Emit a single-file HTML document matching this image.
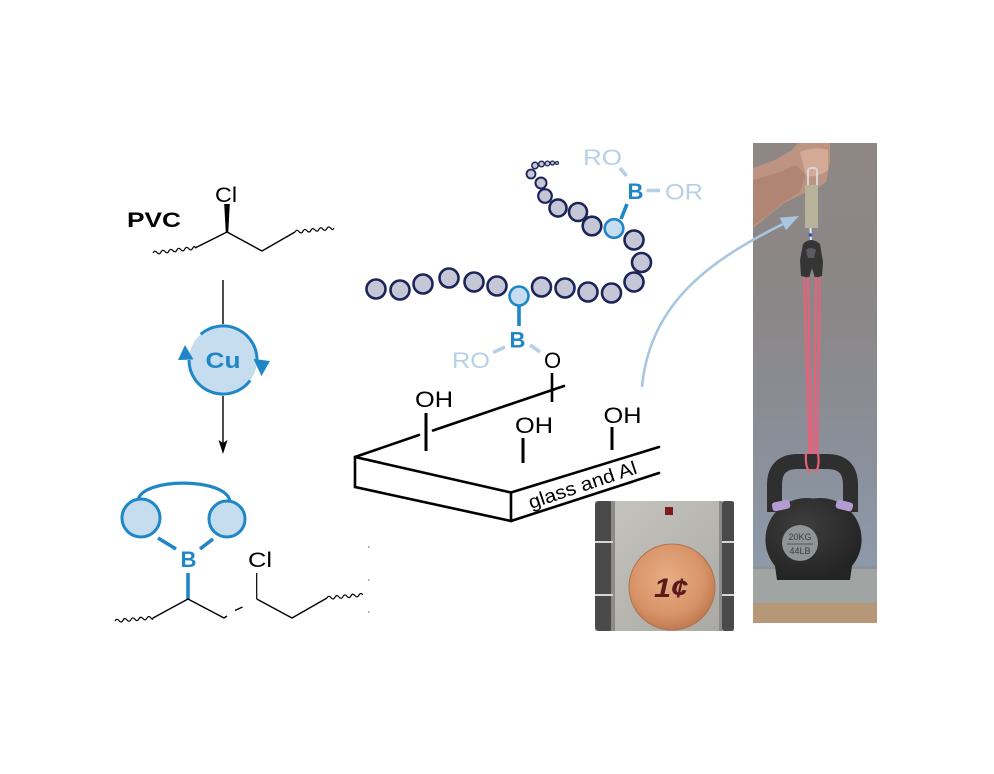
<!DOCTYPE html>
<html><head><meta charset="utf-8">
<style>
html,body{margin:0;padding:0;background:#fff;}
svg{display:block;}
text{font-family:"Liberation Sans",Arial,sans-serif;}
</style></head><body>
<svg width="994" height="774" viewBox="0 0 994 774" xmlns="http://www.w3.org/2000/svg">
<defs>
  <radialGradient id="penny" cx="45%" cy="40%" r="60%">
    <stop offset="0" stop-color="#e8ad84"/>
    <stop offset="0.7" stop-color="#d89468"/>
    <stop offset="1" stop-color="#c07a52"/>
  </radialGradient>
  <linearGradient id="metal" x1="0" y1="0" x2="1" y2="1">
    <stop offset="0" stop-color="#c6c5bf"/>
    <stop offset="1" stop-color="#a9a8a3"/>
  </linearGradient>
  <linearGradient id="wall" x1="0" y1="0" x2="0" y2="1">
    <stop offset="0" stop-color="#8e8784"/>
    <stop offset="0.35" stop-color="#8b8788"/>
    <stop offset="0.6" stop-color="#8a8e97"/>
    <stop offset="0.88" stop-color="#8d99a9"/>
    <stop offset="1" stop-color="#8f9bab"/>
  </linearGradient>
  <radialGradient id="kb" cx="40%" cy="35%" r="65%">
    <stop offset="0" stop-color="#3e3e3e"/>
    <stop offset="1" stop-color="#242424"/>
  </radialGradient>
</defs>

<!-- ============ LEFT COLUMN ============ -->
<text x="127" y="227" font-size="21" font-weight="bold" textLength="54" lengthAdjust="spacingAndGlyphs">PVC</text>
<text x="215" y="202" font-size="21" textLength="22" lengthAdjust="spacingAndGlyphs">Cl</text>
<polygon points="225.8,233 228.2,233 229.8,204 224.2,204" fill="#000"/>
<g fill="none" stroke="#000" stroke-width="1.4" stroke-linejoin="round">
  <path d="M195 248 L227 232 L262 251 L295 232"/>
  <g transform="translate(153,253) rotate(-7)"><path d="M0 0 q2 -3 4 0 t4 0 t4 0 t4 0 t4 0 t4 0 t4 0 t4 0 t4 0 t4 0 t2.5 0" stroke-width="1.2"/></g>
  <g transform="translate(295,232) rotate(-6)"><path d="M0 0 q2 -3 4 0 t4 0 t4 0 t4 0 t4 0 t4 0 t4 0 t4 0 t4 0 t3 0" stroke-width="1.2"/></g>
  <line x1="223" y1="280" x2="223" y2="324"/>
  <line x1="223" y1="396" x2="223" y2="445"/>
</g>
<polygon points="218.5,440 223,443 227.5,440 223,454" fill="#000"/>

<!-- Cu cycle -->
<circle cx="223" cy="360" r="34" fill="#c6dcef"/>
<g fill="none" stroke="#1f86c7" stroke-width="3">
  <path d="M200.7 334.3 A34 34 0 0 1 256.9 363"/>
  <path d="M250.2 380.5 A34 34 0 0 1 189 360"/>
</g>
<polygon points="253.5,359 270,361 261.5,376" fill="#1f86c7"/>
<polygon points="178,360 193.5,359.5 185,345" fill="#1f86c7"/>
<text x="223" y="368" font-size="22" font-weight="bold" fill="#1f86c7" text-anchor="middle" textLength="35" lengthAdjust="spacingAndGlyphs">Cu</text>

<!-- Boronate product -->
<path d="M138 501 C140 477 228 477 230 502" fill="none" stroke="#1f86c7" stroke-width="3.2"/>
<circle cx="141" cy="518" r="19" fill="#c6dcef" stroke="#1f86c7" stroke-width="3"/>
<circle cx="227" cy="519" r="18" fill="#c6dcef" stroke="#1f86c7" stroke-width="3"/>
<g stroke="#1f86c7" stroke-width="3.6" fill="none">
  <line x1="158" y1="538" x2="176" y2="549"/>
  <line x1="213" y1="539" x2="200" y2="549"/>
  <line x1="188" y1="573" x2="188" y2="600"/>
</g>
<text x="188.5" y="567" font-size="22" font-weight="bold" fill="#1f86c7" text-anchor="middle">B</text>
<text x="248" y="567" font-size="21" textLength="24" lengthAdjust="spacingAndGlyphs">Cl</text>
<g fill="none" stroke="#000" stroke-width="1.4" stroke-linejoin="round">
  <path d="M153 618 L188 599 L224 618 L227 616"/>
  <line x1="235" y1="610.5" x2="242.5" y2="607"/>
  <line x1="256.7" y1="573" x2="256.7" y2="599" stroke-width="1.2"/>
  <path d="M256.7 599 L292 618 L327 598"/>
  <g transform="translate(115,621) rotate(-5)"><path d="M0 0 q2 -3 4 0 t4 0 t4 0 t4 0 t4 0 t4 0 t4 0 t4 0 t4 0 t2 0" stroke-width="1.2"/></g>
  <g transform="translate(327,598) rotate(-5)"><path d="M0 0 q2 -3 4 0 t4 0 t4 0 t4 0 t4 0 t4 0 t4 0 t4 0 t4 0" stroke-width="1.2"/></g>
</g>
<g fill="#7fc79a">
  <rect x="368" y="546" width="1.5" height="2"/>
  <rect x="368" y="579" width="1.5" height="2"/>
  <rect x="368" y="611" width="1.5" height="2"/>
</g>

<!-- ============ MIDDLE: polymer chain ============ -->
<g fill="#c5c6d6" stroke="#1c2559" stroke-width="2.6">
  <circle cx="557" cy="163" r="1.5" stroke-width="1.1"/>
  <circle cx="552.5" cy="163" r="2" stroke-width="1.2"/>
  <circle cx="547.5" cy="163.5" r="2.4" stroke-width="1.3"/>
  <circle cx="541.5" cy="164" r="2.8" stroke-width="1.4"/>
  <circle cx="535" cy="165.5" r="3.2" stroke-width="1.5"/>
  <circle cx="531" cy="174" r="4.5" stroke-width="1.8"/>
  <circle cx="541" cy="183" r="5.5" stroke-width="2"/>
  <circle cx="545" cy="196" r="6.8" stroke-width="2.2"/>
  <circle cx="558" cy="208" r="8.5"/>
  <circle cx="578" cy="212" r="9"/>
  <circle cx="592" cy="226" r="9.3"/>
  <circle cx="634" cy="240" r="9.5"/>
  <circle cx="641.5" cy="262.5" r="9.5"/>
  <circle cx="634" cy="282" r="9.5"/>
  <circle cx="611.5" cy="293" r="9.5"/>
  <circle cx="588" cy="292" r="9.5"/>
  <circle cx="565" cy="288" r="9.5"/>
  <circle cx="541.5" cy="287" r="9.5"/>
  <circle cx="376" cy="289" r="9.5"/>
  <circle cx="400" cy="290" r="9.5"/>
  <circle cx="423" cy="284" r="9.5"/>
  <circle cx="449" cy="278" r="9.5"/>
  <circle cx="474" cy="282" r="9.5"/>
  <circle cx="497" cy="286" r="9.5"/>
</g>
<g fill="#c6dcef" stroke="#1f86c7" stroke-width="2.6">
  <circle cx="614" cy="228.5" r="9.3"/>
  <circle cx="519" cy="296" r="9.5"/>
</g>

<!-- upper boronate -->
<g stroke-width="3.6" fill="none">
  <line x1="621" y1="219" x2="627" y2="204" stroke="#1f86c7"/>
  <line x1="646.5" y1="190.5" x2="660" y2="190.5" stroke="#b7d0e6"/>
  <line x1="620" y1="168" x2="626.5" y2="176" stroke="#b7d0e6"/>
</g>
<text x="635.5" y="199" font-size="22" font-weight="bold" fill="#1f86c7" text-anchor="middle">B</text>
<text x="665" y="199.5" font-size="22" fill="#b7d0e6" textLength="38" lengthAdjust="spacingAndGlyphs">OR</text>
<text x="583" y="165" font-size="22" fill="#b7d0e6" textLength="39" lengthAdjust="spacingAndGlyphs">RO</text>

<!-- lower boronate -->
<g stroke-width="3.6" fill="none">
  <line x1="519" y1="306" x2="519" y2="326" stroke="#1f86c7"/>
  <line x1="493" y1="352.5" x2="505" y2="347" stroke="#b7d0e6"/>
  <line x1="530" y1="345" x2="540" y2="352" stroke="#b7d0e6"/>
</g>
<text x="517.5" y="347.5" font-size="22" font-weight="bold" fill="#1f86c7" text-anchor="middle">B</text>
<text x="452" y="368" font-size="22" fill="#b7d0e6" textLength="38" lengthAdjust="spacingAndGlyphs">RO</text>
<text x="552.5" y="368" font-size="22" fill="#000" text-anchor="middle">O</text>

<!-- ============ Slab ============ -->
<g stroke="#000" stroke-width="2.6" fill="none" stroke-linecap="round" stroke-linejoin="round">
  <line x1="355" y1="457" x2="419" y2="435"/>
  <line x1="433" y1="430.5" x2="564" y2="386"/>
  <line x1="355" y1="457" x2="355" y2="487"/>
  <line x1="355" y1="457" x2="511" y2="492.5"/>
  <line x1="355" y1="487" x2="511" y2="521"/>
  <line x1="511" y1="492.5" x2="511" y2="521"/>
  <line x1="511" y1="492.5" x2="659" y2="447"/>
  <line x1="511" y1="521" x2="659" y2="473"/>
  <line x1="552" y1="373" x2="552" y2="402" stroke-linecap="butt"/>
  <line x1="426" y1="413" x2="426" y2="451" stroke-width="3" stroke-linecap="butt"/>
  <line x1="523" y1="438" x2="523" y2="463" stroke-width="3" stroke-linecap="butt"/>
  <line x1="612" y1="427" x2="612" y2="450" stroke-width="3" stroke-linecap="butt"/>
</g>
<text x="415" y="407" font-size="22" textLength="38" lengthAdjust="spacingAndGlyphs">OH</text>
<text x="515" y="433" font-size="22" textLength="38" lengthAdjust="spacingAndGlyphs">OH</text>
<text x="603.5" y="423" font-size="22" textLength="38" lengthAdjust="spacingAndGlyphs">OH</text>
<text transform="translate(531,509) rotate(-18.5)" font-size="19" textLength="113" lengthAdjust="spacingAndGlyphs">glass and Al</text>

<!-- ============ Penny photo ============ -->
<g>
  <rect x="595" y="501" width="139" height="130" fill="url(#metal)"/>
  <rect x="595" y="501" width="18" height="130" rx="4" fill="#4a4a4a"/>
  <rect x="611" y="501" width="4" height="130" fill="#8c8b87"/>
  <rect x="722" y="501" width="12" height="130" rx="3" fill="#4a4a4a"/>
  <rect x="719" y="501" width="3" height="130" fill="#8c8b87"/>
  <rect x="595" y="541" width="18" height="2" fill="#d5d5d5"/>
  <rect x="595" y="594" width="18" height="2" fill="#d5d5d5"/>
  <rect x="722" y="541" width="12" height="2" fill="#d5d5d5"/>
  <rect x="722" y="594" width="12" height="2" fill="#d5d5d5"/>
  <rect x="665" y="507" width="8" height="8" fill="#7d1d19"/>
  <circle cx="672" cy="587" r="43" fill="url(#penny)" stroke="#b47049" stroke-width="1"/>
  <text x="671" y="597" font-size="27" font-weight="bold" font-style="italic" fill="#5a1a1c" text-anchor="middle" textLength="34" lengthAdjust="spacingAndGlyphs">1¢</text>
</g>

<!-- ============ Kettlebell photo ============ -->
<g>
  <rect x="753" y="143" width="124" height="480" fill="url(#wall)"/>
  <rect x="753" y="566" width="124" height="37" fill="#a0a4a2"/>
  <rect x="753" y="566" width="124" height="3" fill="#8c9297"/>
  <rect x="753" y="603" width="124" height="20" fill="#b69878"/>
  <!-- arm / hand -->
  <path d="M753 168 L775 160 L792 150 L798 143 L830 143 L830 162 L826 182 L814 190 L802 194 L784 203 L768 216 L753 228 Z" fill="#bd9482"/>
  <path d="M753 180 L780 172 L796 165 L806 175 L800 192 L784 202 L768 215 L753 226 Z" fill="#a97c6b" opacity="0.6"/>
  <path d="M800 152 Q815 146 828 150 L828 170 Q818 178 806 176 Z" fill="#d2aa96"/>
  <!-- scale -->
  <rect x="808" y="168" width="9" height="20" rx="3" fill="none" stroke="#d6d6d6" stroke-width="2"/>
  <rect x="805" y="185" width="13" height="43" fill="#b8b29b"/>
  <line x1="810.5" y1="228" x2="811" y2="243" stroke="#e8e8ee" stroke-width="2"/>
  <circle cx="810.5" cy="235" r="1.8" fill="#3050c0"/>
  <!-- clamp -->
  <path d="M803 244 Q811 236 820 244 L823 262 L822 276 L815 278 L812 268 L809 278 L801 276 L800 260 Z" fill="#353535"/>
  <path d="M806 250 Q811 246 816 250 L814 258 L808 258 Z" fill="#5a5a60"/>
  <!-- bands -->
  <g stroke="#e5627a" stroke-width="2.2" fill="none">
    <line x1="804" y1="277" x2="810" y2="470"/>
    <line x1="808" y1="277" x2="812" y2="470"/>
    <line x1="816" y1="277" x2="814" y2="470"/>
    <line x1="820" y1="277" x2="817" y2="470"/>
  </g>
  <!-- kettlebell -->
  <path d="M774.5 512 L774.5 485 Q774.5 461.5 798 461.5 L827 461.5 Q850.5 461.5 850.5 485 L850.5 512" fill="none" stroke="#2f2f2f" stroke-width="15"/>
  <g stroke="#e5627a" stroke-width="2.2" fill="none">
    <path d="M806 453 Q805 468 810 472"/>
    <path d="M818 453 Q820 468 815 472"/>
  </g>
  <path d="M813.5 498.5 A41.5 41.5 0 0 1 852 566 L850 580 L777 580 L775 566 A41.5 41.5 0 0 1 813.5 498.5 Z" fill="url(#kb)"/>
  <rect x="772" y="501" width="18" height="9" rx="3" fill="#b49bd2" transform="rotate(-12 781 505)"/>
  <rect x="836" y="501" width="17" height="9" rx="3" fill="#b49bd2" transform="rotate(14 844 505)"/>
  <circle cx="800" cy="543" r="18" fill="#8f9695"/>
  <text x="800" y="540" font-size="9" fill="#3b3f40" text-anchor="middle">20KG</text>
  <line x1="787" y1="544" x2="813" y2="544" stroke="#3b3f40" stroke-width="0.8"/>
  <text x="800" y="554" font-size="9" fill="#3b3f40" text-anchor="middle">44LB</text>
</g>

<!-- ============ Blue arrow ============ -->
<path d="M642 387 C650 300 715 258 783 224" fill="none" stroke="#a8c6e0" stroke-width="2.6"/>
<polygon points="799,216 786,230.3 779.8,217.7" fill="#a8c6e0"/>
</svg>
</body></html>
